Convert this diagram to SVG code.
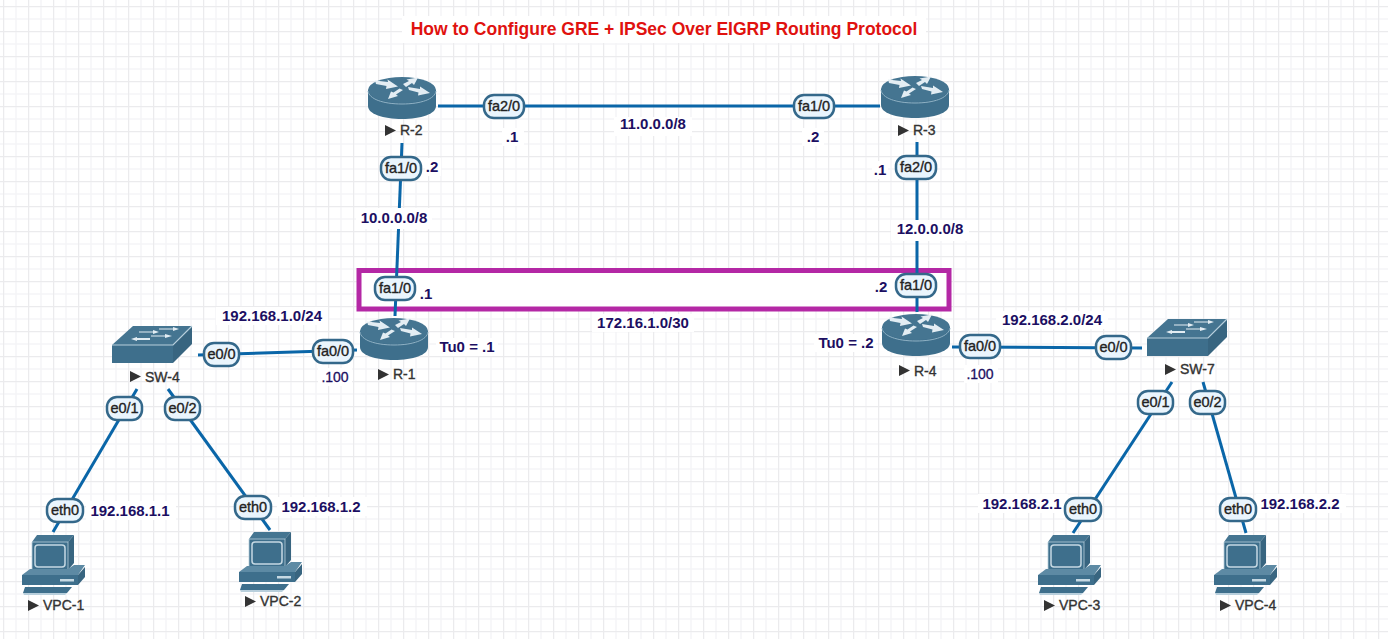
<svg xmlns="http://www.w3.org/2000/svg" width="1388" height="639" viewBox="0 0 1388 639">
<style>
text{font-family:"Liberation Sans",Arial,sans-serif}
.t{font-size:15px;font-weight:700;fill:#1c0f62;text-anchor:middle}
.s{font-size:14px;fill:#1c0f62;text-anchor:middle;stroke:#1c0f62;stroke-width:.3}
.b{fill:#fff}
.n{font-size:14px;fill:#333;stroke:#333;stroke-width:.35}
.tri{fill:#333}
.l{stroke:#0a66a8;stroke-width:3;fill:none}
.p rect{fill:#eaf5fd;stroke:#34688a;stroke-width:2.500}
.p text{font-size:14.500px;fill:#222;text-anchor:middle;stroke:#222;stroke-width:.35}
.m{fill:#3e6f8c}
.h{fill:#e3edf3}
</style>
<defs>
<pattern id="grid" width="25" height="25" patternUnits="userSpaceOnUse" x="3" y="6">
<path d="M13 0V25M0 13H25" stroke="#f5f5f7" stroke-width="1.500" fill="none"/>
<path d="M0.500 0V25M0 0.500H25" stroke="#ebebed" stroke-width="1.500" fill="none"/>
</pattern>
<g id="router">
<path class="m" d="M0 13V29C0 37 15 42 34 42S68 37 68 29V13Z"/>
<ellipse cx="34" cy="13" rx="34" ry="13" fill="#457591"/>
<path d="M0 14C1 22 15 27 34 27S67 22 68 14" fill="none" stroke="#8fb1c4" stroke-width="1"/>
<path class="h" d="M7 3.500L20 5L19.500 2.500L30 9.500L18 12L18.500 9L8 7ZM35 7L41 4L38.500 2.500L50 .5L46 8L44 6L38 10ZM35 13L28 17.500L30 19L20 22L23 14.500L25.500 15.500L31.500 11.500ZM40 10L52 12L52 9.500L62 16L50 18.500L50.500 15.500L41 13Z"/>
</g>
<g id="switch">
<path class="m" d="M0 20H61V38H0Z"/>
<path d="M0 20L21 1H80L61 20Z" fill="#457591"/>
<path d="M61 20L80 1V19L61 38Z" fill="#386580"/>
<path d="M0 20H61L80 1" fill="none" stroke="#b8cfdc" stroke-width="1.200"/>
<path class="h" d="M27 6.500H41V5L47 7L41 9V7.500H27ZM47 3.500H61V2L67 4L61 6V4.500H47ZM19 14L25 12V13H38V15H25V16ZM39 10.500H53V9L60 11L53 13V11.500H39Z"/>
</g>
<g id="pc">
<path d="M11 7L16 0H53L47 7Z" fill="#457591"/>
<path d="M47 7L53 0V28L47 35Z" fill="#386580"/>
<path d="M11 7H47V35H11Z" class="m" stroke="#b8cfdc" stroke-width=".8"/>
<rect x="14" y="10" width="30" height="22" rx="3" class="m" stroke="#c6d9e3" stroke-width="1.500"/>
<path d="M9 34H47L53 30H64L57 40H1Z" fill="#5d8aa4"/>
<path class="m" d="M1 40H57V50H1Z"/>
<path d="M57 40L64 32V42L57 50Z" fill="#386580"/>
<rect x="39" y="44" width="14" height="2.500" fill="#c6d9e3"/>
<path d="M4 52H51L46 58H2Z" class="m"/>
<path d="M2 58H46L44 60H3Z" fill="#b8cfdc"/>
</g>
<path id="tri" class="tri" d="M0 0L11 5.500L0 11Z"/>
</defs>
<rect width="1388" height="639" fill="#fff"/>
<rect width="1388" height="639" fill="url(#grid)"/>

<rect id="tunnel" x="359" y="270.500" width="590" height="38.500" fill="#fff" stroke="#b428a5" stroke-width="5"/>

<g id="connectors" class="l">
<path d="M438 106H880"/>
<path d="M402 143L395 316"/>
<path d="M917 142V312"/>
<path d="M198 355L357 350"/>
<path d="M952 347L1142 348"/>
<path d="M137 389L53 532"/>
<path d="M168 389L270 530"/>
<path d="M1172 382L1073 533"/>
<path d="M1203 382L1246 533"/>
</g>

<g id="label-backgrounds" class="b">
<rect x="402" y="16" width="524" height="27"/>
<rect x="502" y="128" width="22" height="18"/>
<rect x="614" y="117" width="78" height="19"/>
<rect x="802" y="128" width="22" height="18"/>
<rect x="425" y="158" width="16" height="18"/>
<rect x="872" y="161" width="16" height="18"/>
<rect x="356" y="208" width="76" height="21"/>
<rect x="891" y="220" width="78" height="21"/>
<rect x="592" y="314" width="102" height="18"/>
<rect x="216" y="307" width="112" height="18"/>
<rect x="996" y="311" width="112" height="18"/>
<rect x="436" y="338" width="62" height="18"/>
<rect x="814" y="334" width="62" height="18"/>
<rect x="318" y="368" width="34" height="18"/>
<rect x="964" y="365" width="34" height="18"/>
<rect x="86" y="501" width="90" height="19"/>
<rect x="277" y="497" width="90" height="19"/>
<rect x="978" y="494" width="90" height="19"/>
<rect x="1256" y="494" width="90" height="19"/>
</g>

<g id="R-2"><use href="#router" x="368" y="77"/><use href="#tri" x="385" y="125"/><text class="n" x="400" y="135">R-2</text></g>
<g id="R-3"><use href="#router" x="881" y="76"/><use href="#tri" x="898" y="125"/><text class="n" x="913" y="135">R-3</text></g>
<g id="R-1"><use href="#router" x="360" y="318"/><use href="#tri" x="378" y="369"/><text class="n" x="393" y="379">R-1</text></g>
<g id="R-4"><use href="#router" x="882" y="314"/><use href="#tri" x="899" y="365"/><text class="n" x="914" y="376">R-4</text></g>
<g id="SW-4"><use href="#switch" x="112" y="325"/><use href="#tri" x="130" y="371"/><text class="n" x="145" y="382">SW-4</text></g>
<g id="SW-7"><use href="#switch" x="1147" y="318"/><use href="#tri" x="1165" y="364"/><text class="n" x="1180" y="374">SW-7</text></g>
<g id="VPC-1"><use href="#pc" x="21" y="535"/><use href="#tri" x="28" y="600"/><text class="n" x="43" y="610">VPC-1</text></g>
<g id="VPC-2"><use href="#pc" x="238" y="532"/><use href="#tri" x="245" y="596"/><text class="n" x="260" y="606">VPC-2</text></g>
<g id="VPC-3"><use href="#pc" x="1037" y="535"/><use href="#tri" x="1044" y="600"/><text class="n" x="1059" y="610">VPC-3</text></g>
<g id="VPC-4"><use href="#pc" x="1213" y="535"/><use href="#tri" x="1220" y="600"/><text class="n" x="1235" y="610">VPC-4</text></g>

<g id="interfaces" class="p">
<g><rect x="484" y="95" width="40" height="23" rx="10"/><text x="504" y="111">fa2/0</text></g>
<g><rect x="794" y="95" width="40" height="23" rx="10"/><text x="814" y="111">fa1/0</text></g>
<g><rect x="381" y="157" width="40" height="23" rx="10"/><text x="401" y="173">fa1/0</text></g>
<g><rect x="896" y="156" width="40" height="23" rx="10"/><text x="916" y="172">fa2/0</text></g>
<g><rect x="375" y="277" width="40" height="23" rx="10"/><text x="395" y="293">fa1/0</text></g>
<g><rect x="896" y="274" width="40" height="23" rx="10"/><text x="916" y="290">fa1/0</text></g>
<g><rect x="313" y="340" width="40" height="23" rx="10"/><text x="333" y="356">fa0/0</text></g>
<g><rect x="960" y="335" width="40" height="23" rx="10"/><text x="980" y="351">fa0/0</text></g>
<g><rect x="204" y="343" width="35" height="23" rx="10"/><text x="221.500" y="359">e0/0</text></g>
<g><rect x="1096" y="336" width="35" height="23" rx="10"/><text x="1113.500" y="352">e0/0</text></g>
<g><rect x="107" y="397" width="35" height="23" rx="10"/><text x="124.500" y="413">e0/1</text></g>
<g><rect x="165" y="397" width="35" height="23" rx="10"/><text x="182.500" y="413">e0/2</text></g>
<g><rect x="1138" y="391" width="35" height="23" rx="10"/><text x="1155.500" y="407">e0/1</text></g>
<g><rect x="1190" y="391" width="35" height="23" rx="10"/><text x="1207.500" y="407">e0/2</text></g>
<g><rect x="47" y="499" width="36" height="23" rx="10"/><text x="65" y="515">eth0</text></g>
<g><rect x="235" y="496" width="36" height="23" rx="10"/><text x="253" y="512">eth0</text></g>
<g><rect x="1065" y="498" width="36" height="23" rx="10"/><text x="1083" y="514">eth0</text></g>
<g><rect x="1220" y="498" width="36" height="23" rx="10"/><text x="1238" y="514">eth0</text></g>
</g>

<g id="labels">
<text x="664" y="35" text-anchor="middle" font-size="17.500" font-weight="700" fill="#e0120f">How to Configure GRE + IPSec Over EIGRP Routing Protocol</text>
<text class="t" x="512" y="142">.1</text>
<text class="t" x="653" y="129">11.0.0.0/8</text>
<text class="t" x="813" y="142">.2</text>
<text class="t" x="432" y="172">.2</text>
<text class="t" x="880" y="175">.1</text>
<text class="t" x="394" y="223">10.0.0.0/8</text>
<text class="t" x="930" y="234">12.0.0.0/8</text>
<text class="t" x="426" y="299">.1</text>
<text class="t" x="881" y="292">.2</text>
<text class="t" x="643" y="328">172.16.1.0/30</text>
<text class="t" x="272" y="321">192.168.1.0/24</text>
<text class="t" x="1052" y="325">192.168.2.0/24</text>
<text class="t" x="467" y="352">Tu0 = .1</text>
<text class="t" x="846" y="348">Tu0 = .2</text>
<text class="s" x="335" y="382">.100</text>
<text class="s" x="980" y="379">.100</text>
<text class="t" x="130" y="516">192.168.1.1</text>
<text class="t" x="321" y="512">192.168.1.2</text>
<text class="t" x="1022" y="509">192.168.2.1</text>
<text class="t" x="1300" y="509">192.168.2.2</text>
</g>
</svg>
